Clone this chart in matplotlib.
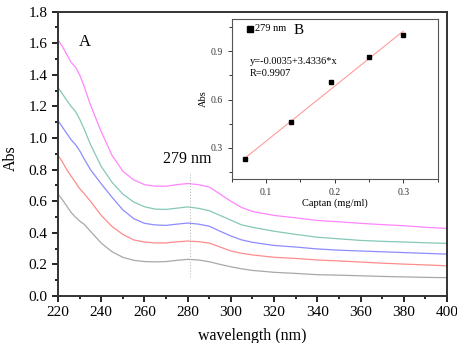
import matplotlib
matplotlib.use("Agg")
import matplotlib.pyplot as plt
from matplotlib.ticker import MultipleLocator

# ── Data ──────────────────────────────────────────────────────────────────────

WL = [220, 222, 224, 226, 228, 230, 232, 235, 240, 245, 250, 255, 260, 265,
      270, 275, 280, 285, 290, 295, 300, 305, 310, 320, 330, 340, 350, 360,
      370, 380, 390, 400]

ABS_PINK = [1.62, 1.58, 1.53, 1.48, 1.45, 1.40, 1.33, 1.21, 1.04, 0.89, 0.79,
            0.735, 0.705, 0.695, 0.695, 0.705, 0.712, 0.705, 0.69, 0.645,
            0.60, 0.56, 0.535, 0.51, 0.495, 0.478, 0.47, 0.46, 0.452, 0.445,
            0.435, 0.428]
ABS_TEAL = [1.32, 1.28, 1.24, 1.20, 1.17, 1.12, 1.06, 0.96, 0.82, 0.72,
            0.645, 0.595, 0.565, 0.55, 0.548, 0.556, 0.564, 0.555, 0.54, 0.51,
            0.48, 0.45, 0.435, 0.41, 0.39, 0.372, 0.362, 0.352, 0.346, 0.342,
            0.337, 0.333]
ABS_BLUE = [1.11, 1.07, 1.03, 0.99, 0.96, 0.92, 0.87, 0.80, 0.71, 0.625,
            0.545, 0.49, 0.46, 0.45, 0.447, 0.455, 0.462, 0.455, 0.442, 0.41,
            0.38, 0.355, 0.34, 0.32, 0.31, 0.298, 0.29, 0.285, 0.28, 0.275,
            0.27, 0.265]
ABS_RED  = [0.89, 0.85, 0.80, 0.76, 0.72, 0.68, 0.65, 0.60, 0.51, 0.44, 0.39,
            0.355, 0.342, 0.336, 0.336, 0.343, 0.348, 0.344, 0.335, 0.31,
            0.285, 0.27, 0.26, 0.245, 0.238, 0.228, 0.222, 0.215, 0.208,
            0.202, 0.197, 0.191]
ABS_GRAY = [0.645, 0.61, 0.57, 0.53, 0.50, 0.475, 0.455, 0.41, 0.335, 0.28,
            0.245, 0.226, 0.218, 0.216, 0.218, 0.226, 0.232, 0.228, 0.217,
            0.20, 0.185, 0.172, 0.162, 0.15, 0.143, 0.135, 0.132, 0.128,
            0.124, 0.121, 0.118, 0.116]

CAPTAN   = [0.070, 0.136, 0.195, 0.250, 0.300]
ABS_279  = [0.227, 0.461, 0.710, 0.867, 1.000]
FIT_A, FIT_B = -0.0035, 3.4336

PEAK_WL = 281

# ── Style ─────────────────────────────────────────────────────────────────────

PINK  = "#ff85ff"
TEAL  = "#85c8b8"
BLUE  = "#8c8cff"
RED   = "#ff8c8c"
GRAY  = "#a8a8a8"
FIT   = "#ff9c9c"

plt.rcParams["font.family"] = ["Liberation Serif", "DejaVu Serif"]

fig = plt.figure(figsize=(4.57, 3.43), dpi=100)
fig.patch.set_facecolor("white")

# ── Main panel ────────────────────────────────────────────────────────────────

ax = fig.add_axes([0.127, 0.137, 0.851, 0.829])
for ys, c in [(ABS_GRAY, GRAY), (ABS_RED, RED), (ABS_BLUE, BLUE),
              (ABS_TEAL, TEAL), (ABS_PINK, PINK)]:
    ax.plot(WL, ys, color=c, lw=0.9)

ax.plot([PEAK_WL, PEAK_WL], [0.12, 0.78], color="#b0b0b0", lw=0.7, ls=(0, (1, 2)))

ax.set_xlim(220, 400)
ax.set_ylim(0, 1.8)
ax.xaxis.set_major_locator(MultipleLocator(20))
ax.xaxis.set_minor_locator(MultipleLocator(10))
ax.yaxis.set_major_locator(MultipleLocator(0.2))
ax.yaxis.set_minor_locator(MultipleLocator(0.1))
ax.yaxis.set_major_formatter(plt.FuncFormatter(lambda v, p: f"{v:.1f}"))
ax.tick_params(which="both", direction="out", top=False, right=False,
               labelsize=11, width=1.2, colors="black")
ax.tick_params(which="major", length=4)
ax.tick_params(which="minor", length=2.5)
for s in ax.spines.values():
    s.set_linewidth(1.4)
    s.set_color("#333333")

ax.set_xlabel("wavelength (nm)", fontsize=11.5)
ax.set_ylabel("Abs", fontsize=11.5)
ax.xaxis.set_label_coords(0.499, -0.112)
ax.yaxis.set_label_coords(-0.102, 0.485)

ax.text(232.5, 1.605, "A", fontsize=12, ha="center", va="center")
ax.text(279.7, 0.865, "279 nm", fontsize=11.5, ha="center", va="center")

# ── Inset ─────────────────────────────────────────────────────────────────────

ins = fig.add_axes([0.507, 0.478, 0.452, 0.468])
xs = [min(CAPTAN), max(CAPTAN)]
ins.plot(xs, [FIT_A + FIT_B * x for x in xs], color=FIT, lw=0.8)
ins.plot(CAPTAN, ABS_279, ls="none", marker="s", ms=2.8, color="black")

ins.set_xlim(0.05, 0.351)
ins.set_ylim(0.104, 1.105)
ins.xaxis.set_major_locator(MultipleLocator(0.1))
ins.xaxis.set_minor_locator(MultipleLocator(0.05))
ins.yaxis.set_major_locator(MultipleLocator(0.3))
ins.yaxis.set_minor_locator(MultipleLocator(0.15))
ins.tick_params(which="both", direction="out", top=False, right=False,
                labelsize=7, width=0.7, colors="#333333")
ins.tick_params(which="major", length=3)
ins.tick_params(which="minor", length=2)
for s in ins.spines.values():
    s.set_linewidth(0.8)
    s.set_color("#555555")

ins.set_xlabel("Captan (mg/ml)", fontsize=7.5, labelpad=1)
ins.set_ylabel("Abs", fontsize=7.5, labelpad=2)

ins.plot([0.076], [1.04], ls="none", marker="s", ms=4, color="black")
ins.text(0.084, 1.04, "279 nm", fontsize=7.5, ha="left", va="center")
ins.text(0.148, 1.03, "B", fontsize=11, ha="center", va="center")
ins.text(0.077, 0.84, "y=-0.0035+3.4336*x", fontsize=7.5, ha="left", va="center")
ins.text(0.077, 0.76, "R=0.9907", fontsize=7.5, ha="left", va="center")

fig.savefig("out.png", dpi=100, facecolor="white")
